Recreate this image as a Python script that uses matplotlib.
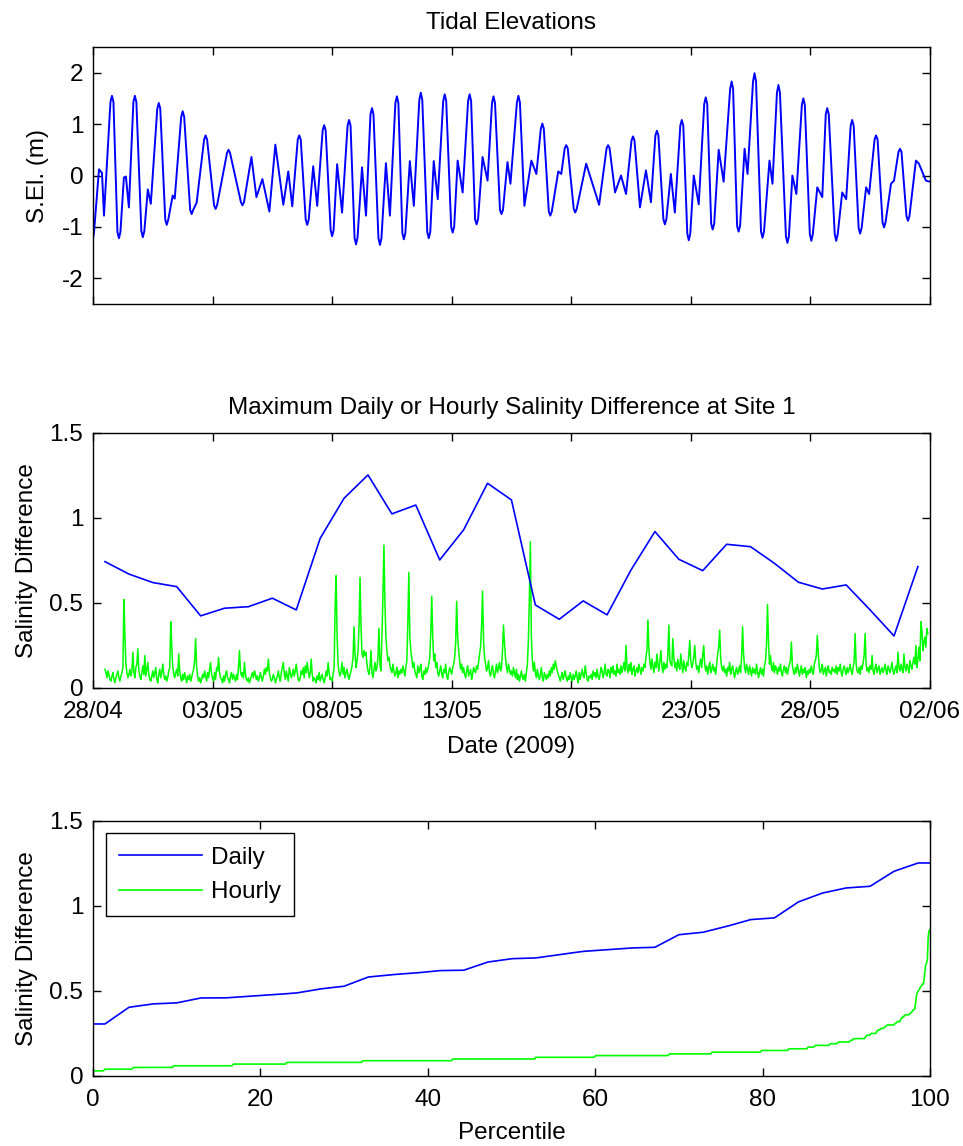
import numpy as np
import matplotlib
matplotlib.use("Agg")
import matplotlib.pyplot as plt
import matplotlib.dates as mdates
from datetime import datetime, timedelta

plt.rcParams["font.family"] = ["Liberation Sans", "DejaVu Sans"]
plt.rcParams["font.size"] = 17.5

START = datetime(2009, 4, 28)

# Tidal surface elevation: turning points and shoulders
# (hours after 28/04 00:00, metres)
tide_hours = [
    0, 1, 6, 9, 11, 17.5, 19, 20.5, 24.5, 26, 27.5, 31, 33, 36, 40.5, 42, 43.5, 48.5, 50, 51.5,
    55, 58, 64.5, 66, 67.5, 72.5, 74, 75.5, 80, 82, 88.5, 90, 91.5, 97.5, 99, 100.5, 104,
    111.5, 113, 114.5, 121.5, 123, 124.5, 134.5, 136, 137.5, 148.5, 150, 151.5,
    159, 164, 170, 177, 183, 191, 196, 200,
    205.5, 207, 208.5, 213.5, 215, 216.5, 221, 225, 230.5, 232, 233.5, 238.5, 240, 241.5,
    245, 250, 255.5, 257, 258.5, 262.5, 264, 265.5, 270, 274, 278.5, 280, 281.5,
    286.5, 288, 289.5, 294, 298, 303.5, 305, 306.5, 310.5, 312, 313.5, 318, 322,
    327.5, 329, 330.5, 335.5, 337, 338.5, 342, 346, 351.5, 353, 354.5, 359.5, 361, 362.5,
    366, 371, 376.5, 378, 379.5, 383.5, 385, 386.5, 391, 396, 400.5, 402, 403.5,
    408.5, 410, 411.5, 416, 419, 425.5, 427, 428.5, 433, 440, 445, 449.5, 451, 452.5,
    457.5, 459, 460.5, 467, 470, 473.5, 475, 476.5, 482.5, 484, 485.5, 495, 508,
    515.5, 517, 518.5, 524, 530, 535, 540.5, 542, 543.5, 549, 555, 560,
    564.5, 566, 567.5, 572.5, 574, 575.5, 580, 584, 589.5, 591, 592.5, 596.5, 598, 599.5,
    603, 608, 613.5, 615, 616.5, 620.5, 622, 623.5, 628, 633, 639.5, 641, 642.5,
    646.5, 648, 649.5, 654, 657, 662.5, 664, 665.5, 670.5, 672, 673.5, 679, 682,
    686.5, 688, 689.5, 695.5, 697, 698.5, 702, 706, 711.5, 713, 714.5, 719.5, 721, 722.5,
    727, 732, 735.5, 737, 738.5, 744.5, 746, 747.5, 752, 756, 760.5, 762, 763.5,
    768.5, 770, 771.5, 776, 779, 784.5, 786, 787.5, 792.5, 794, 795.5, 801, 804,
    808.5, 810, 811.5, 816.5, 818, 819.5, 826, 829, 836, 840,
]
tide_elev = [
    -1.22, -1.10, 0.12, 0.05, -0.78, 1.43, 1.55, 1.43, -1.10, -1.22, -1.10, -0.04, -0.02, -0.62,
    1.43, 1.55, 1.43, -1.08, -1.20, -1.08,
    -0.27, -0.55, 1.30, 1.41, 1.30, -0.86, -0.96, -0.86, -0.39, -0.45, 1.14, 1.25, 1.14,
    -0.67, -0.75, -0.67, -0.53,
    0.70, 0.78, 0.70, -0.58, -0.65, -0.58, 0.44, 0.50, 0.44, -0.52, -0.58, -0.52,
    0.36, -0.42, -0.07, -0.70, 0.60, -0.57, 0.08, -0.60,
    0.70, 0.78, 0.70, -0.86, -0.96, -0.86, 0.18, -0.59, 0.88, 0.98, 0.88, -1.06, -1.18, -1.06,
    0.22, -0.72, 0.97, 1.08, 0.97, -1.21, -1.34, -1.21, 0.16, -0.78, 1.19, 1.31, 1.19,
    -1.22, -1.35, -1.22, 0.24, -0.78, 1.41, 1.54, 1.41, -1.12, -1.24, -1.12, 0.28, -0.59,
    1.47, 1.61, 1.47, -1.10, -1.22, -1.10, 0.28, -0.46, 1.45, 1.58, 1.45, -1.00, -1.11, -1.00,
    0.29, -0.33, 1.45, 1.58, 1.45, -0.85, -0.95, -0.85, 0.36, -0.10, 1.41, 1.54, 1.41,
    -0.67, -0.75, -0.67, 0.26, -0.16, 1.42, 1.55, 1.42, -0.59, 0.29, 0.03, 0.91, 1.01, 0.91,
    -0.70, -0.78, -0.70, 0.08, 0.03, 0.53, 0.59, 0.53, -0.65, -0.72, -0.65, 0.23, -0.57,
    0.53, 0.59, 0.53, -0.33, 0.00, -0.36, 0.68, 0.76, 0.68, -0.62, 0.10, -0.52,
    0.78, 0.87, 0.78, -0.85, -0.95, -0.85, 0.03, -0.72, 0.97, 1.08, 0.97, -1.13, -1.26, -1.13,
    0.00, -0.56, 1.39, 1.52, 1.39, -0.94, -1.05, -0.94, 0.50, -0.12, 1.68, 1.83, 1.68,
    -0.98, -1.09, -0.98, 0.52, 0.03, 1.83, 1.99, 1.83, -1.09, -1.21, -1.09, 0.29, -0.16,
    1.61, 1.76, 1.61, -1.18, -1.31, -1.18, 0.00, -0.36, 1.37, 1.50, 1.37, -1.14, -1.27, -1.14,
    -0.23, -0.42, 1.19, 1.31, 1.19, -1.14, -1.27, -1.14, -0.33, -0.46, 0.97, 1.08, 0.97,
    -1.02, -1.13, -1.02, -0.23, -0.36, 0.70, 0.78, 0.70, -0.91, -1.01, -0.91, -0.16, -0.10,
    0.46, 0.52, 0.46, -0.79, -0.88, -0.79, 0.29, 0.23, -0.10, -0.12,
]

# Maximum daily salinity difference (one value per day, plotted at midday)
daily_diff = [0.743, 0.670, 0.620, 0.596, 0.424, 0.469, 0.478, 0.528, 0.459, 0.880,
              1.116, 1.253, 1.024, 1.076, 0.753, 0.930, 1.204, 1.106, 0.488, 0.404,
              0.512, 0.430, 0.694, 0.920, 0.757, 0.690, 0.845, 0.831, 0.733, 0.622,
              0.582, 0.606, 0.459, 0.306, 0.714]

# Maximum hourly salinity difference in hundredths, one row per day,
# first value at 28/04 12:00
hourly_rows = [
    "11 9 6 10 8 5 4 7 9 5 3 6",
    "8 10 6 4 7 9 12 52 31 14 9 6 8 11 7 10 21 9 6 12 14 23 10 7",
    "5 9 13 8 19 7 11 15 8 5 4 7 10 6 9 12 5 3 8 11 6 9 14 8",
    "5 7 4 6 10 12 39 25 13 8 6 9 11 7 20 10 6 4 8 5 9 6 3 7",
    "5 8 4 6 9 11 16 29 12 7 4 6 3 5 8 6 10 7 4 9 6 11 15 8",
    "6 4 9 5 12 10 18 9 6 5 3 7 4 8 10 6 5 3 7 9 5 8 6 4",
    "8 5 12 22 10 7 9 6 15 8 5 4 6 3 5 7 9 6 10 8 5 7 4 6",
    "9 6 4 7 11 8 12 10 17 9 6 4 5 8 6 3 5 7 10 6 4 9 12 15",
    "8 5 10 7 4 12 9 6 8 11 7 10 14 9 5 4 6 10 8 12 6 13 9 15",
    "10 6 9 17 8 4 6 5 3 7 5 9 4 6 8 5 3 6 10 7 15 9 5 6",
    "4 8 12 47 66 30 14 9 7 10 15 8 12 6 9 11 7 5 8 10 13 18 36 20",
    "12 16 22 36 65 36 20 18 22 19 21 14 10 8 12 22 9 6 11 15 10 12 18 35",
    "14 10 30 54 84 50 30 22 16 18 13 11 9 14 10 7 9 12 6 10 8 11 9 13",
    "10 7 12 16 38 68 30 22 17 12 15 10 8 6 13 9 11 14 7 5 10 8 12 9",
    "11 14 18 32 54 30 16 20 12 15 9 7 10 13 8 6 11 9 14 7 5 9 12 10",
    "8 12 14 18 27 51 30 22 16 11 14 9 12 8 6 10 13 7 9 11 5 8 12 10",
    "9 13 11 15 20 24 36 57 28 18 14 10 12 16 9 7 11 13 8 6 10 14 9 12",
    "15 10 12 22 37 26 18 12 9 14 11 8 10 7 12 9 6 11 5 8 4 7 10 6",
    "5 8 4 9 14 28 53 86 30 16 10 15 9 6 11 7 5 8 12 6 4 9 7 5",
    "8 6 10 7 12 9 14 11 16 13 10 8 6 4 7 9 5 8 10 6 4 7 5 9",
    "6 4 8 5 7 10 6 3 9 5 8 11 7 6 13 9 5 4 7 6 8 5 10 7",
    "9 6 11 7 5 8 12 10 6 9 14 8 7 11 10 6 12 9 13 8 10 7 14 9",
    "11 8 13 9 12 15 10 25 12 9 14 10 15 8 11 13 7 10 12 9 14 11 8 12",
    "10 14 12 18 22 40 22 15 11 17 13 9 15 12 20 14 10 16 22 13 9 15 11 14",
    "12 20 37 16 14 13 29 18 12 15 10 17 13 11 20 14 9 16 12 10 15 13 19 28",
    "16 12 14 18 25 15 11 13 9 14 17 12 19 25 14 10 13 8 12 15 9 11 14 10",
    "12 8 14 20 24 34 18 12 10 13 9 11 7 12 10 15 8 11 13 9 6 10 12 8",
    "10 13 9 18 36 20 12 9 14 11 8 13 10 7 12 9 11 8 14 10 6 9 12 8",
    "11 7 13 16 25 49 28 14 19 12 10 15 9 13 11 8 12 10 14 9 7 11 13 9",
    "12 8 11 14 16 27 13 10 8 12 9 14 11 7 10 13 8 11 9 12 6 10 8 11",
    "9 13 10 8 14 16 19 31 20 12 9 11 14 8 10 12 7 11 13 9 10 8 12 10",
    "11 9 13 8 12 10 14 9 7 11 13 10 8 12 9 11 14 10 8 12 16 32 14 10",
    "9 12 8 13 11 15 19 32 14 10 12 9 13 11 19 10 8 12 14 9 11 13 8 10",
    "12 9 11 14 10 8 13 11 9 12 15 10 8 11 13 9 21 12 10 14 11 9 20 12",
    "10 14 12 9 16 13 11 15 18 14 25 12 17 24 16 39 34 22 27 30 24 35 32",
]
hourly_diff = np.array([int(v) for row in hourly_rows for v in row.split()]) / 100.0

date_ticks = [START + timedelta(days=5 * k) for k in range(8)]
x_lim = (START, START + timedelta(days=35))

tide_t = [START + timedelta(hours=h) for h in tide_hours]
daily_t = [START + timedelta(days=i + 0.5) for i in range(len(daily_diff))]
hourly_t = [START + timedelta(hours=12 + i) for i in range(len(hourly_diff))]

BLUE = (0, 0, 1)
GREEN = (0, 1, 0)

fig = plt.figure(figsize=(9.63, 11.46), dpi=100)
ax1 = fig.add_axes([0.0966, 0.7347, 0.869, 0.2243])
ax2 = fig.add_axes([0.0966, 0.3997, 0.869, 0.2225])
ax3 = fig.add_axes([0.0966, 0.0611, 0.869, 0.2225])


def style(ax, xpad=7):
    ax.tick_params(direction="in", length=6, width=1.0, top=True, right=True, pad=7,
                   labelsize=17.5)
    ax.tick_params(axis="x", pad=xpad)
    for s in ax.spines.values():
        s.set_linewidth(1.0)


fmt = matplotlib.ticker.FormatStrFormatter("%g")

# Tidal elevations
ax1.plot(tide_t, tide_elev, color=BLUE, lw=1.4)
ax1.set_xlim(x_lim)
ax1.set_xticks(date_ticks)
ax1.set_xticklabels([])
ax1.set_ylim(-2.5, 2.5)
ax1.set_yticks([-2, -1, 0, 1, 2])
ax1.yaxis.set_major_formatter(fmt)
ax1.set_title("Tidal Elevations", fontsize=17.5, pad=13)
ax1.set_ylabel("S.El. (m)")
ax1.yaxis.set_label_coords(-0.053, 0.5)
style(ax1)

# Daily and hourly salinity differences over time
ax2.plot(hourly_t, hourly_diff, color=GREEN, lw=1.1)
ax2.plot(daily_t, daily_diff, color=BLUE, lw=1.2)
ax2.set_xlim(x_lim)
ax2.set_xticks(date_ticks)
ax2.xaxis.set_major_formatter(mdates.DateFormatter("%d/%m"))
ax2.set_ylim(0, 1.5)
ax2.set_yticks([0, 0.5, 1, 1.5])
ax2.yaxis.set_major_formatter(fmt)
ax2.set_title("Maximum Daily or Hourly Salinity Difference at Site 1", fontsize=17.5, pad=14)
ax2.set_ylabel("Salinity Difference")
ax2.yaxis.set_label_coords(-0.066, 0.5)
ax2.set_xlabel("Date (2009)")
ax2.xaxis.set_label_coords(0.5, -0.19)
style(ax2, xpad=9.5)

# Percentile distributions
pct = np.linspace(0, 100, 1001)
daily_pct = np.percentile(daily_diff, pct, method="hazen")
hourly_pct = np.percentile(hourly_diff, pct, method="hazen")
ax3.plot(pct, daily_pct, color=BLUE, lw=1.2, label="Daily")
ax3.plot(pct, hourly_pct, color=GREEN, lw=1.2, label="Hourly")
ax3.set_xlim(0, 100)
ax3.set_ylim(0, 1.5)
ax3.set_xticks([0, 20, 40, 60, 80, 100])
ax3.set_yticks([0, 0.5, 1, 1.5])
ax3.yaxis.set_major_formatter(fmt)
ax3.set_ylabel("Salinity Difference")
ax3.yaxis.set_label_coords(-0.066, 0.5)
ax3.set_xlabel("Percentile")
ax3.xaxis.set_label_coords(0.5, -0.18)
style(ax3, xpad=9.5)
leg = ax3.legend(loc="upper left", bbox_to_anchor=(0.0155, 0.951), borderaxespad=0,
                 fancybox=False, frameon=True, edgecolor="black", framealpha=1,
                 handlelength=3.4, handletextpad=0.35, labelspacing=0.5,
                 borderpad=0.55, fontsize=17.5)
leg.get_frame().set_linewidth(1.0)

fig.savefig("out.png", dpi=100)
